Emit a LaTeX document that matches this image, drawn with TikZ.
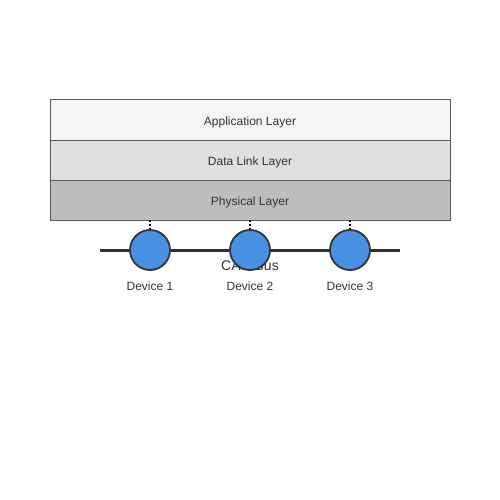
\documentclass[tikz,border=0pt]{standalone}
\usepackage{fontspec}
\setmainfont{Liberation Sans}
\begin{document}
\begin{tikzpicture}[x=1pt,y=-1pt,
  layer/.style={draw=black!65,line width=1pt,minimum width=400pt,minimum height=40pt,inner sep=0pt,text=black!80,font=\fontsize{12}{14}\selectfont,text height=10.6pt,text depth=0pt},
  dev/.style={circle,draw=black!80,line width=1.8pt,fill=devblue,minimum size=40pt,inner sep=0pt},
  lbl/.style={text=black!80,font=\fontsize{12}{14}\selectfont,inner sep=0pt},
  bus/.style={draw=black!80,line width=3pt},
  link/.style={draw=black,line width=1.5pt,dash pattern=on 2pt off 2pt}]
\definecolor{devblue}{HTML}{4A90E2}
\useasboundingbox (0,0) rectangle (500,500);
\node[layer,fill=black!4] (app) at (250,120) {Application Layer};
\node[layer,fill=black!12] (dll) at (250,160) {Data Link Layer};
\node[layer,fill=black!26] (phy) at (250,200) {Physical Layer};
\coordinate (busL) at (100,250);
\coordinate (busR) at (400,250);
\draw[bus] (busL) -- (busR);
\node[lbl,font=\fontsize{14}{16}\selectfont,text height=10pt,text depth=0pt] (canbus) at (250,265) {CAN Bus};
\foreach \i/\x in {1/150,2/250,3/350}{
  \coordinate (top\i) at (\x,220);
  \coordinate (c\i) at (\x,230);
  \draw[link] (top\i) -- (c\i);
}
\node[dev] (d1) at (150,250) {};
\node[dev] (d2) at (250,250) {};
\node[dev] (d3) at (350,250) {};
\node[lbl] (l1) at (150,286) {Device 1};
\node[lbl] (l2) at (250,286) {Device 2};
\node[lbl] (l3) at (350,286) {Device 3};
\end{tikzpicture}
\end{document}
